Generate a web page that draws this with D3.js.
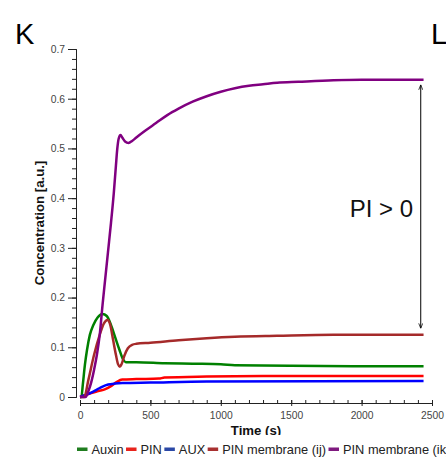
<!DOCTYPE html>
<html><head><meta charset="utf-8">
<script src="https://cdn.jsdelivr.net/npm/d3@7"></script>
<style>body{margin:0;background:#fff}svg{display:block;font-family:"Liberation Sans",Arial,sans-serif}</style>
</head><body><svg id="c" width="446" height="461"></svg>
<script>
// ---- data (time s, concentration a.u.) ----
const seriesNames = ["Auxin", "PIN", "AUX", "PIN membrane (ij)", "PIN membrane (ik)"];
const lineColors = ["#008000", "#ff0000", "#0000ff", "#a52a2a", "#800080"];
const legendColors = ["#1f7d1f", "#e8231c", "#2b48a6", "#a83030", "#7f1a7f"];
const auxin = [[0,0],[10,0],[20,0.025],[35,0.065],[50,0.095],[70,0.125],[95,0.145],[125,0.16],[160,0.167],[190,0.163],[220,0.145],[250,0.12],[280,0.095],[305,0.076],[325,0.07],[400,0.07],[600,0.068],[800,0.067],[1000,0.066],[1100,0.064],[1500,0.063],[2000,0.062],[2440,0.062]];
const pin = [[0,0],[30,0.003],[80,0.008],[130,0.012],[180,0.016],[220,0.022],[260,0.03],[300,0.035],[400,0.036],[560,0.037],[600,0.039],[900,0.041],[1300,0.042],[2440,0.042]];
const aux = [[0,0],[40,0.004],[80,0.009],[120,0.015],[160,0.021],[200,0.025],[250,0.027],[300,0.028],[500,0.029],[900,0.031],[2440,0.032]];
const pinMemIJ = [[0,0],[30,0],[60,0.035],[100,0.085],[140,0.125],[170,0.148],[195,0.155],[215,0.145],[235,0.115],[255,0.085],[270,0.066],[283,0.061],[295,0.066],[315,0.083],[340,0.098],[370,0.105],[400,0.107],[500,0.109],[700,0.114],[900,0.118],[1100,0.121],[1400,0.123],[1800,0.125],[2440,0.125]];
const pinMemIK = [[0,0],[40,0],[60,0.012],[80,0.03],[100,0.055],[120,0.085],[140,0.125],[160,0.185],[180,0.24],[200,0.295],[220,0.35],[240,0.41],[255,0.465],[265,0.5],[275,0.52],[288,0.527],[300,0.522],[320,0.514],[345,0.511],[370,0.515],[400,0.522],[460,0.535],[540,0.551],[620,0.567],[700,0.58],[800,0.594],[900,0.605],[1000,0.614],[1100,0.621],[1200,0.626],[1300,0.629],[1400,0.632],[1550,0.634],[1800,0.637],[2000,0.638],[2440,0.638]];
const allSeries = [auxin, pin, aux, pinMemIJ, pinMemIK];
const xTicks = [0, 500, 1000, 1500, 2000, 2500];
const yTicks = [0, 0.1, 0.2, 0.3, 0.4, 0.5, 0.6, 0.7];
const annotationText = "PI > 0";

const svg = d3.select("#c");
const x = d3.scaleLinear().domain([0, 2500]).range([80, 432]);
const y = d3.scaleLinear().domain([0, 0.7]).range([397, 49]);

// panel letters
svg.append("text").attr("x", 15).attr("y", 44).attr("font-size", 29).attr("fill", "#000").text("K");
svg.append("text").attr("x", 431).attr("y", 44).attr("font-size", 29).attr("fill", "#000").text("L");

// y axis
const yAx = svg.append("g").attr("transform", "translate(76,0)");
yAx.call(d3.axisLeft(y).tickValues(d3.range(0, 0.7001, 0.02)).tickSize(4).tickFormat(""));
const yMaj = svg.append("g").attr("transform", "translate(76,0)")
  .call(d3.axisLeft(y).tickValues(yTicks).tickSize(8).tickPadding(3).tickFormat(d => d === 0 ? "0" : d3.format(".1f")(d)));
[yAx, yMaj].forEach(g => { g.select(".domain").attr("stroke", "#222"); g.selectAll(".tick line").attr("stroke", "#222"); });
yMaj.selectAll("text").attr("font-size", 10.3).attr("fill", "#444").attr("font-family", "Liberation Sans, Arial, sans-serif");

// x axis
const xAx = svg.append("g").attr("transform", "translate(0,403)");
xAx.call(d3.axisTop(x).tickValues(d3.range(0, 2501, 100)).tickSize(3).tickFormat(""));
xAx.select(".domain").attr("stroke", "#222");
xAx.selectAll(".tick line").attr("stroke", "#222");
const xMaj = svg.append("g").attr("transform", "translate(0,403)")
  .call(d3.axisBottom(x).tickValues(xTicks).tickSize(3).tickPadding(6).tickFormat(d3.format("d")));
xMaj.select(".domain").remove();
xMaj.selectAll(".tick line").attr("stroke", "#222").attr("y1", -3);
xMaj.selectAll("text").attr("font-size", 10.3).attr("fill", "#444").attr("font-family", "Liberation Sans, Arial, sans-serif");

// axis titles
svg.append("text").attr("x", 256).attr("y", 434.5).attr("text-anchor", "middle")
  .attr("font-size", 13.2).attr("font-weight", "bold").attr("fill", "#111").text("Time (s)");
svg.append("text").attr("transform", "translate(43.5,223) rotate(-90)").attr("text-anchor", "middle")
  .attr("font-size", 13.2).attr("font-weight", "bold").attr("fill", "#111").text("Concentration [a.u.]");

// lines
const line = d3.line().x(d => x(d[0])).y(d => y(d[1])).curve(d3.curveMonotoneX);
allSeries.forEach((s, i) => {
  svg.append("path").datum(s).attr("d", line).attr("fill", "none")
    .attr("stroke", lineColors[i]).attr("stroke-width", 2.5).attr("stroke-linejoin", "round");
});

// arrow annotation
const defs = svg.append("defs");
["s", "e"].forEach(k => {
  defs.append("marker").attr("id", "ah" + k).attr("viewBox", "0 0 10 10").attr("refX", 10).attr("refY", 5)
    .attr("markerWidth", 5).attr("markerHeight", 5).attr("orient", "auto-start-reverse")
    .append("path").attr("d", "M0,1 L10,5 L0,9").attr("fill", "none").attr("stroke", "#000").attr("stroke-width", 1.5);
});
const topV = pinMemIK[pinMemIK.length - 1][1], botV = pinMemIJ[pinMemIJ.length - 1][1];
const ax = x(2420);
svg.append("line").attr("x1", ax).attr("x2", ax).attr("y1", y(topV) + 5).attr("y2", y(botV) - 6.5)
  .attr("stroke", "#000").attr("stroke-width", 1)
  .attr("marker-start", "url(#ahs)").attr("marker-end", "url(#ahe)");
svg.append("text").attr("x", 413).attr("y", 217).attr("text-anchor", "end").attr("font-size", 24)
  .attr("fill", "#111").text(annotationText);

// legend
const lg = svg.append("g");
lg.append("rect").attr("x", 70).attr("y", 435).attr("width", 376).attr("height", 26).attr("fill", "#fff");
let lx = 77;
seriesNames.forEach((n, i) => {
  lg.append("rect").attr("x", lx).attr("y", 447.5).attr("width", 10.5).attr("height", 3.5).attr("fill", legendColors[i]);
  const t = lg.append("text").attr("x", lx + 14.5).attr("y", 453.5).attr("font-size", 12.8).attr("fill", "#222").text(n);
  lx += 14.5 + t.node().getComputedTextLength() + 2.5;
});
</script></body></html>
